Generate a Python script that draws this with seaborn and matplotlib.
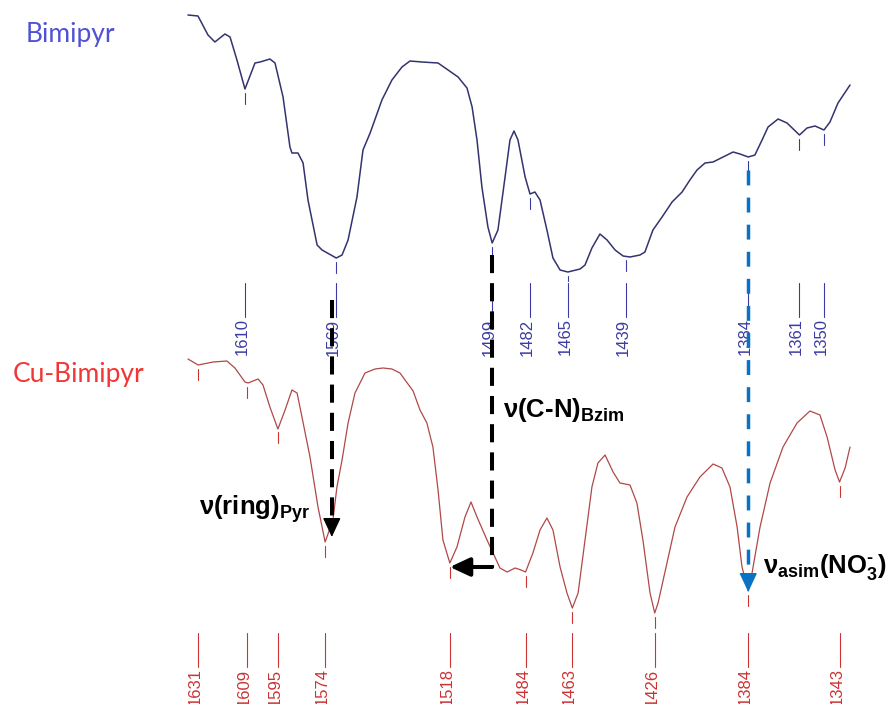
import numpy as np
import pandas as pd
import matplotlib
matplotlib.use("Agg")
import matplotlib.pyplot as plt
import seaborn as sns

# FT-IR spectra, 1640-1335 cm-1 (relative transmittance, arbitrary units)
bimipyr_wn = [1635.6, 1631.1, 1626.6, 1623.5, 1619.0, 1616.7, 1613.6, 1610.0,
              1605.5, 1603.2, 1598.8, 1596.5, 1592.9, 1589.8, 1588.9, 1586.2, 1583.9, 1581.7,
              1577.6, 1575.4, 1569.0, 1566.4, 1563.7, 1559.7, 1557.0, 1553.8, 1548.5, 1544.0,
              1539.5, 1535.9, 1530.5, 1523.3, 1518.8, 1514.3, 1510.3, 1508.0, 1505.8, 1503.6,
              1500.9, 1499.0, 1496.4, 1493.2, 1491.0, 1489.2, 1487.4, 1484.2, 1482.0, 1479.8,
              1477.5, 1474.4, 1471.7, 1468.5, 1465.0, 1459.5, 1457.3, 1454.2, 1450.6, 1447.4,
              1443.8, 1440.2, 1437.1, 1432.6, 1430.4, 1426.8, 1422.7, 1418.2, 1413.7, 1410.2,
              1407.0, 1403.4, 1399.8, 1395.3, 1390.8, 1387.7, 1384.0, 1381.0, 1377.8, 1375.1,
              1370.6, 1366.6, 1361.0, 1357.6, 1354.0, 1350.0, 1347.3, 1343.7, 1338.3]
bimipyr_t = [689, 688, 669, 662, 670, 667, 644, 615,
             641, 642, 645, 641, 607, 557, 551, 551, 541, 504,
             459, 454, 446, 449, 464, 507, 554, 571, 604, 624,
             637, 643, 642, 641, 634, 627, 616, 597, 564, 517,
             477, 461, 474, 527, 564, 573, 564, 527, 510, 512,
             504, 474, 446, 434, 432, 435, 439, 456, 470, 464,
             454, 448, 447, 449, 452, 474, 487, 502, 512, 524,
             534, 541, 542, 547, 552, 550, 547, 549, 564, 577,
             585, 581, 569, 576, 578, 574, 582, 601, 619]

cu_wn = [1635.6, 1631.0, 1624.3, 1618.1, 1614.5, 1610.0, 1608.6, 1604.1, 1601.9, 1598.8,
         1595.2, 1592.0, 1588.9, 1586.6, 1584.4, 1580.8, 1577.2, 1574.0, 1570.5, 1568.7,
         1566.4, 1563.7, 1560.6, 1556.1, 1551.6, 1548.0, 1544.0, 1540.4, 1536.8, 1534.5,
         1531.4, 1528.3, 1525.6, 1523.3, 1521.1, 1518.0, 1514.8, 1511.2, 1508.5, 1505.8,
         1501.3, 1498.6, 1495.5, 1492.3, 1488.7, 1486.0, 1484.0, 1480.7, 1477.5, 1474.4,
         1471.7, 1468.5, 1465.4, 1463.0, 1460.4, 1457.3, 1454.2, 1451.5, 1448.3, 1444.7,
         1441.6, 1437.1, 1434.0, 1431.3, 1428.1, 1426.0, 1424.5, 1420.5, 1416.9, 1411.5,
         1405.7, 1399.8, 1395.8, 1392.2, 1389.0, 1386.8, 1384.0, 1382.3, 1378.7, 1374.2,
         1368.4, 1362.1, 1356.3, 1351.8, 1348.6, 1345.0, 1343.0, 1340.5, 1338.3]
cu_t = [345, 339, 342, 343, 336, 322, 321, 325, 319, 297,
        275, 294, 314, 311, 287, 247, 197, 162, 184, 217,
        244, 281, 311, 331, 335, 336, 335, 331, 320, 313,
        294, 281, 257, 214, 164, 141, 157, 187, 202, 187,
        164, 151, 136, 132, 136, 134, 132, 151, 174, 186,
        174, 137, 111, 96, 111, 164, 217, 241, 249, 232,
        221, 219, 201, 164, 111, 91, 101, 141, 177, 207,
        227, 240, 236, 217, 177, 137, 113, 131, 177, 221,
        257, 281, 293, 289, 267, 234, 222, 236, 257]

bimipyr_peaks = [1610, 1569, 1499, 1482, 1465, 1439, 1384, 1361, 1350]
cu_peaks = [1631, 1609, 1595, 1574, 1518, 1484, 1463, 1426, 1384, 1343]

sample_names = ["Bimipyr", "Cu-Bimipyr"]

sns.set_theme(style="white")
plt.rcParams["font.family"] = ["Liberation Sans", "DejaVu Sans"]
plt.rcParams["text.color"] = "black"
plt.rcParams["mathtext.fontset"] = "custom"
plt.rcParams["mathtext.rm"] = "Liberation Sans:bold"
plt.rcParams["mathtext.it"] = "Liberation Sans:bold"
plt.rcParams["mathtext.bf"] = "Liberation Sans:bold"
plt.rcParams["mathtext.sf"] = "Liberation Sans:bold"

BLUE_LINE = "#33336f"
BLUE_TEXT = "#3b3ba3"
RED_LINE = "#b04848"
RED_TEXT = "#cc3333"
ARROW_BLUE = "#0a72c4"

fig = plt.figure(figsize=(8.93, 7.04), dpi=100)
ax = fig.add_axes([0, 0, 1, 1])

df = pd.concat([
    pd.DataFrame({"wavenumber": bimipyr_wn, "T": bimipyr_t, "sample": sample_names[0]}),
    pd.DataFrame({"wavenumber": cu_wn, "T": cu_t, "sample": sample_names[1]}),
])
sns.lineplot(data=df[df["sample"] == sample_names[0]], x="wavenumber", y="T",
             color=BLUE_LINE, lw=1.1, estimator=None, ax=ax)
sns.lineplot(data=df[df["sample"] == sample_names[1]], x="wavenumber", y="T",
             color=RED_LINE, lw=0.9, estimator=None, ax=ax)
for line in ax.lines:
    line.set_solid_joinstyle("round")

ax.set_xlim(1720.0, 1319.0)
ax.set_ylim(0, 704)
ax.set_axis_off()


def mark_peaks(wn, t, peaks, color, line_top, line_bottom):
    wn_a = np.asarray(wn, dtype=float)[::-1]
    t_a = np.asarray(t, dtype=float)[::-1]
    for p in peaks:
        yc = np.interp(p, wn_a, t_a)
        ax.plot([p, p], [yc - 4, max(yc - 15, line_top + 2)], color=color, lw=0.8)
        ax.plot([p, p], [line_top, line_bottom], color=color, lw=0.8)
        ax.annotate(str(p), xy=(p, line_bottom), xytext=(-2, -1), textcoords="offset points",
                    rotation=90, ha="center", va="top", color=color, fontsize=12)


mark_peaks(bimipyr_wn, bimipyr_t, bimipyr_peaks, BLUE_TEXT, 421, 387)
mark_peaks(cu_wn, cu_t, cu_peaks, RED_TEXT, 71, 37)

# sample names
ax.text(0.029, 0.940, sample_names[0], transform=ax.transAxes, color="#5151d6",
        fontsize=19, family="Lato", ha="left", va="baseline")
ax.text(0.0146, 0.457, sample_names[1], transform=ax.transAxes, color="#f23636",
        fontsize=19, family="Lato", ha="left", va="baseline")

head = dict(arrowstyle="-|>,head_length=0.6,head_width=0.28", mutation_scale=20,
            shrinkA=0, shrinkB=0, lw=1)


def down_arrow(x, y_start, y_tip, color, lw, dashes):
    ax.plot([x, x], [y_start, y_tip + 10], color=color, lw=lw,
            linestyle=(0, dashes), solid_capstyle="butt", dash_capstyle="butt", zorder=5)
    ax.annotate("", xy=(x, y_tip), xytext=(x, y_tip + 17),
                arrowprops=dict(head, color=color), zorder=6)


# pyridine ring shift 1569 -> 1574
down_arrow(1571, 404, 167, "black", 2.9, (4.5, 2.5))
# benzimidazole C-N shift 1499 -> 1518
ax.plot([1499, 1499], [449, 137], color="black", lw=2.9, linestyle=(0, (4.5, 2.5)),
        dash_capstyle="butt", zorder=5)
ax.annotate("", xy=(1518, 137), xytext=(1499, 137),
            arrowprops=dict(head, color="black", lw=2.9), zorder=6)
# nitrate band
down_arrow(1384, 534, 112, ARROW_BLUE, 2.5, (4.3, 3.5))

ax.text(1630.6, 189, r"$\text{ν(ring)}_{\text{Pyr}}$", fontsize=18.5, color="black",
        ha="left", va="baseline")
ax.text(1494.1, 287, r"$\text{ν(C-N)}_{\text{Bzim}}$", fontsize=18.5, color="black",
        ha="left", va="baseline")
ax.text(1377.4, 131, r"$\text{ν}_{\text{asim}}\text{(NO}_{\text{3}}^{\text{-}}\text{)}$",
        fontsize=18.5, color="black", ha="left", va="baseline")

fig.savefig("out.png", dpi=100)
